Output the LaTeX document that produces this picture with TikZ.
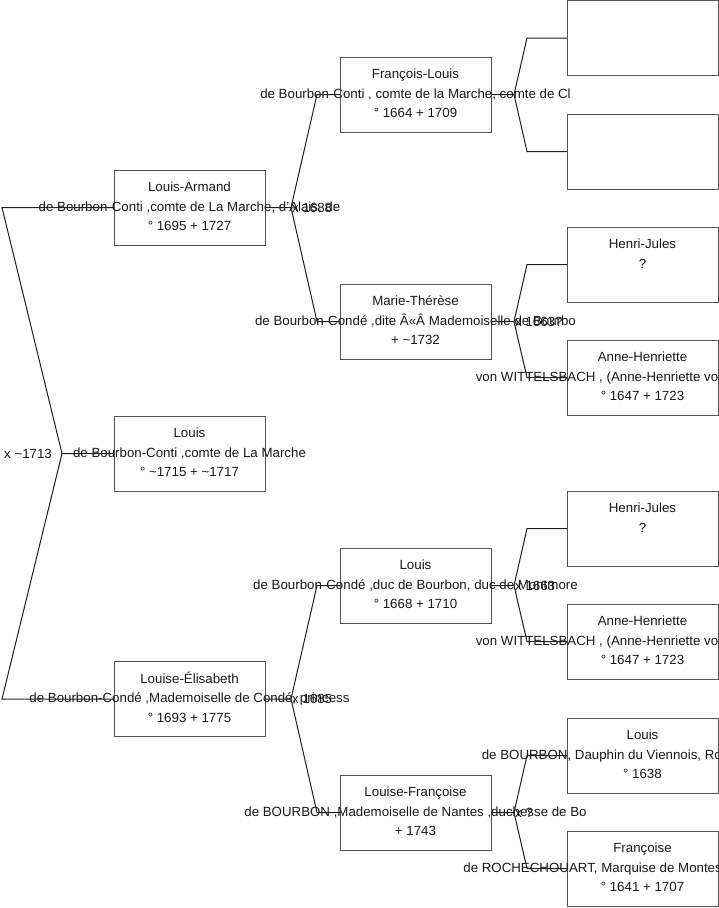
\documentclass[tikz,border=0pt]{standalone}
\usepackage{fontspec}
\setmainfont{Liberation Sans}
\usetikzlibrary{calc}
\definecolor{BoxClr}{rgb}{0.33,0.33,0.33}
\definecolor{LinkClr}{rgb}{0.12,0.12,0.12}
\definecolor{TextClr}{rgb}{0.1,0.1,0.1}

\newcommand{\person}[5]{%
  \node[pbox] (#1) at (#2) {};
  \node[ptext] (#1t) at (#1) {#3\strut\\#4\strut\\#5\strut};}
\newcommand{\famlink}[6]{%
  \draw[link] (#1.east) -- ++(#4,0) coordinate (#1f) -- ($(#2.west)-(#5,0)$) -- (#2.west);
  \draw[link] (#1f) -- ($(#3.west)-(#5,0)$) -- (#3.west);
  \node[marr] (#1m) at (#1f) {#6};}

\begin{document}
\begin{tikzpicture}[x=1pt,y=-1pt,
  pbox/.style={draw=BoxClr,line width=1pt,minimum width=151pt,minimum height=75pt,inner sep=0pt,outer sep=0pt},
  ptext/.style={text=TextClr,align=center,inner sep=0pt,font=\fontsize{13.3}{19.5}\selectfont},
  link/.style={draw=LinkClr,line width=1pt},
  marr/.style={text=TextClr,anchor=west,inner sep=1pt,font=\fontsize{13.3}{19.5}\selectfont}]
\useasboundingbox (0,0) rectangle (719,908);
\clip (0,0) rectangle (719,908);

\person{LA}{189.5,207.5}{Louis-Armand}{de Bourbon-Conti ,comte de La Marche, d'Alais, de}{° 1695 + 1727}
\person{LO}{189.5,453.5}{Louis}{de Bourbon-Conti ,comte de La Marche}{° \textasciitilde1715 + \textasciitilde1717}
\person{LE}{189.5,699}{Louise-Élisabeth}{de Bourbon-Condé ,Mademoiselle de Condé, princess}{° 1693 + 1775}

\person{FL}{415.5,94.5}{François-Louis}{de Bourbon-Conti , comte de la Marche, comte de Cl}{° 1664 + 1709}
\person{MT}{415.5,321.5}{Marie-Thérèse}{de Bourbon-Condé ,dite Â«Â Mademoiselle de Bourbo}{+ \textasciitilde1732}
\person{LC}{415.5,585.5}{Louis}{de Bourbon-Condé ,duc de Bourbon, duc de Montmore}{° 1668 + 1710}
\person{LF}{415.5,812.5}{Louise-Françoise}{de BOURBON ,Mademoiselle de Nantes ,duchesse de Bo}{+ 1743}

\node[pbox] (A1) at (642.5,38) {};
\node[pbox] (A2) at (642.5,151.5) {};
\person{HJa}{642.5,264.5}{Henri-Jules}{?}{}
\person{AHa}{642.5,377.5}{Anne-Henriette}{von WITTELSBACH , (Anne-Henriette von Pfalz-Simmer}{° 1647 + 1723}
\person{HJb}{642.5,528.5}{Henri-Jules}{?}{}
\person{AHb}{642.5,641.5}{Anne-Henriette}{von WITTELSBACH , (Anne-Henriette von Pfalz-Simmer}{° 1647 + 1723}
\person{LB}{642.5,755.5}{Louis}{de BOURBON, Dauphin du Viennois, Roi de France et}{° 1638}
\person{FR}{642.5,868.5}{Françoise}{de ROCHECHOUART, Marquise de Montespan, Duchesse d}{° 1641 + 1707}

\coordinate (k0) at (62,453.5);
\draw[link] (LA.west) -- ++(-112,0) -- (k0) -- (LO.west);
\draw[link] (LE.west) -- ++(-112,0) -- (k0);
\node[marr] (m0) at (3,453.5) {x \textasciitilde1713};

\famlink{LA}{FL}{MT}{26}{23}{x 1688}
\famlink{LE}{LC}{LF}{26}{23}{x 1685}
\famlink{FL}{A1}{A2}{23}{40}{}
\famlink{MT}{HJa}{AHa}{23}{40}{x 1663?}
\famlink{LC}{HJb}{AHb}{23}{40}{x 1663}
\famlink{LF}{LB}{FR}{23}{40}{x ?}
\end{tikzpicture}
\end{document}
